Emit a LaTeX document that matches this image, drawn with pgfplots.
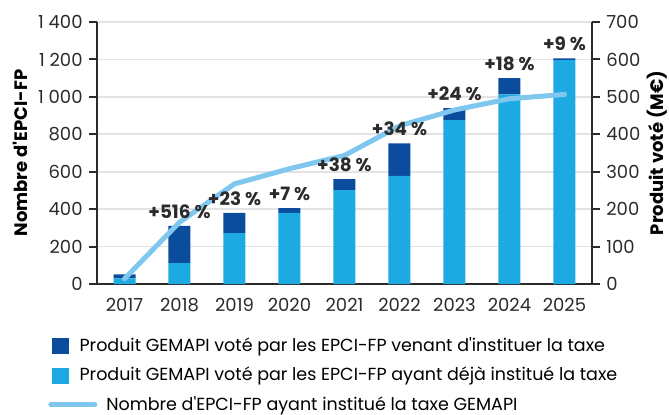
\documentclass[border=0pt]{standalone}
\usepackage{fontspec}
\setmainfont{Poppins}
\usepackage{pgfplots}
\pgfplotsset{compat=1.18}
\definecolor{darkb}{HTML}{0B4D9C}
\definecolor{lightb}{HTML}{1DA9E1}
\definecolor{linec}{HTML}{7FC7EF}
\definecolor{axc}{HTML}{2B2B2B}
\definecolor{gridc}{HTML}{E3E3E3}
\begin{document}
\fontsize{9pt}{11pt}\selectfont
\begin{tikzpicture}
\pgfplotsset{
  base/.style={
    scale only axis, width=247.5pt, height=131pt,
    xmin=-0.5, xmax=8.5,
    axis line style={axc, line width=1pt},
    tick style={axc, line width=1pt},
    tick align=outside,
    major tick length=4pt,
    /pgf/number format/assume math mode=true,
    /pgf/number format/1000 sep={\hspace{2.4pt}},
    ticklabel style={font=\fontsize{9pt}{11pt}\selectfont, text=axc},
    label style={font=\fontsize{9pt}{11pt}\selectfont\bfseries, text=black},
  }
}
\begin{axis}[base, name=ax,
  axis y line*=right, axis x line*=bottom,
  ymin=0, ymax=700, ytick={0,100,...,700},
  ymajorgrids, grid style={gridc, line width=0.8pt},
  xtick={0,...,8},
  xticklabels={2017,2018,2019,2020,2021,2022,2023,2024,2025},
  x tick style={draw=none},
  minor xtick={-0.5,0.5,...,8.5},
  minor x tick style={axc, line width=1pt},
  minor tick length=2.5pt,
  ybar stacked, bar width=11pt,
  ylabel={Produit voté (M€)},
  ylabel style={at={(axis description cs:1.131,0.5)}, anchor=center, rotate=0, inner sep=0pt},
]
\addplot[fill=lightb, draw=none] coordinates {
 (0,15) (1,56) (2,136) (3,190) (4,251) (5,289) (6,438) (7,507) (8,598)};
\addplot[fill=darkb, draw=none] coordinates {
 (0,11) (1,99) (2,54) (3,13) (4,29) (5,87) (6,32) (7,43) (8,5)};
\end{axis}
\begin{axis}[base,
  axis y line*=left, axis x line=none,
  ymin=0, ymax=1400, ytick={0,200,...,1400},
  ylabel={Nombre d\textquotesingle EPCI-FP},
  ylabel style={at={(axis description cs:-0.1556,0.5)}, anchor=center, inner sep=0pt},
  legend style={at={(axis description cs:-0.0992,-0.2008)}, anchor=north west,
    draw=none, fill=none, inner sep=0pt, row sep=5.9pt,
    font=\fontsize{8.75pt}{11pt}\selectfont,
    nodes={inner sep=0pt, text height=7pt, text depth=2pt},
    cells={anchor=west}, column sep=4.5pt},
  legend cell align=left,
]
\addlegendimage{legend image code/.code={\fill[darkb] (2pt,-3.75pt) rectangle (10pt,3.75pt);}}
\addlegendentry{\hspace*{-13.35pt}Produit GEMAPI voté par les EPCI-FP venant d\textquotesingle instituer la taxe}
\addlegendimage{legend image code/.code={\fill[lightb] (2pt,-3.75pt) rectangle (10pt,3.75pt);}}
\addlegendentry{\hspace*{-13.35pt}Produit GEMAPI voté par les EPCI-FP ayant déjà institué la taxe}
\addplot[linec, line width=2.5pt, line cap=round, line join=round, mark=none,
  legend image code/.code={\draw[linec, line width=2.5pt, line cap=round] (1.25pt,0.5pt) -- (23.25pt,0.5pt);}]
  coordinates {(0,28) (1,330) (2,535) (3,616) (4,687) (5,845) (6,930) (7,990) (8,1013)};
\addlegendentry{Nombre d\textquotesingle EPCI-FP ayant institué la taxe GEMAPI}
\end{axis}
\begin{axis}[base, hide axis, ymin=0, ymax=700]
\addplot[draw=none, mark=none,
  point meta=explicit symbolic,
  nodes near coords,
  every node near coord/.append style={font=\fontsize{9.2pt}{11pt}\selectfont\bfseries, text=axc, anchor=base, yshift=3.85pt},
] coordinates {
 (1,155) [+516~\%]
 (2,190) [+23~\%]
 (3,203) [+7~\%]
 (4,280) [+38~\%]
 (5,376) [+34~\%]
 (6,470) [+24~\%]
 (7,550) [+18~\%]
 (8,603) [+9~\%]};
\end{axis}
\pgfresetboundingbox
\path ([shift={(-48.5pt,-65pt)}]ax.south west) rectangle ([shift={(286pt,142pt)}]ax.south west);
\end{tikzpicture}
\end{document}
